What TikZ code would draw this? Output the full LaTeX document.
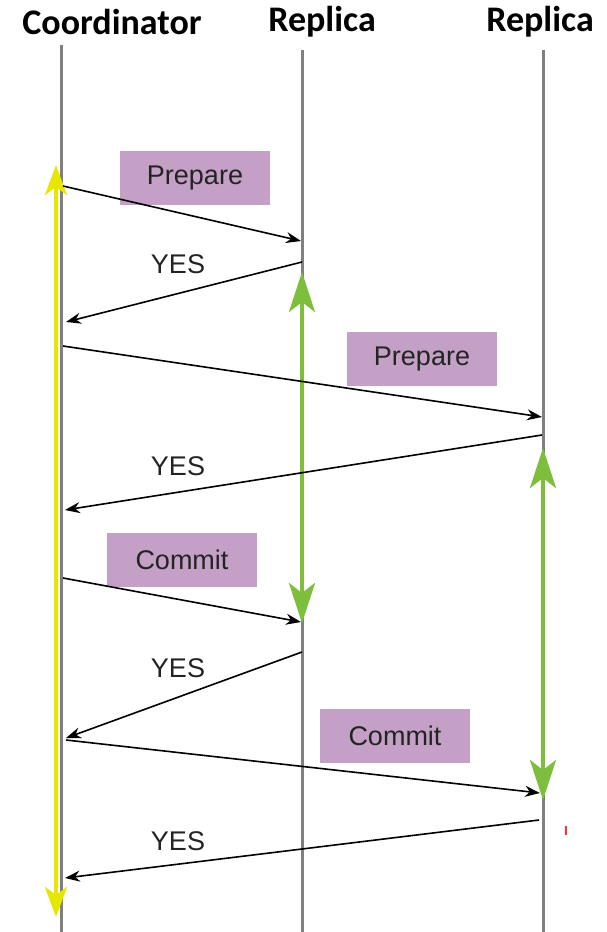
\documentclass[tikz,border=0pt]{standalone}
\usepackage{fontspec}
\setmainfont{Liberation Sans}
\newfontfamily\titlefont{Carlito}
\usetikzlibrary{arrows.meta}
\definecolor{lifegray}{RGB}{128,128,128}
\definecolor{spanyellow}{RGB}{230,230,0}
\definecolor{spangreen}{RGB}{125,190,60}
\definecolor{msgpurple}{RGB}{196,160,198}
\definecolor{msgtext}{RGB}{35,35,35}
\tikzset{
  title/.style={font=\titlefont\bfseries\fontsize{36}{38}\selectfont, text=black, inner sep=0pt, anchor=center},
  lifeline/.style={draw=lifegray, line width=3pt},
  msg/.style={draw=black, line width=1.6pt, -{Stealth[length=15pt,width=11pt]}},
  msgbox/.style={fill=msgpurple, text=msgtext, minimum width=150pt, minimum height=54pt, inner sep=0pt, font=\fontsize{27}{29}\selectfont},
  yeslabel/.style={text=msgtext, inner sep=0pt, font=\fontsize{27}{29}\selectfont},
  yellowspan/.style={draw=spanyellow, line width=4.5pt, {Stealth[length=30pt,width=22pt,inset=8pt]}-{Stealth[length=30pt,width=22pt,inset=8pt]}},
  greenspan/.style={draw=spangreen, line width=4pt, {Stealth[length=40pt,width=26pt,inset=10pt]}-{Stealth[length=40pt,width=26pt,inset=10pt]}},
}
\begin{document}
\begin{tikzpicture}[x=1pt,y=-1pt]
\useasboundingbox (0,0) rectangle (607,932);
% titles
\node[title] (tcoord) at (112,22) {Coordinator};
\node[title] (trep1) at (322,22) {Replica};
\node[title] (trep2) at (540,22) {Replica};
% lifelines
\coordinate (cTop) at (61,45);  \coordinate (cBot) at (61,932);
\coordinate (r1Top) at (302,50); \coordinate (r1Bot) at (302,932);
\coordinate (r2Top) at (543,50); \coordinate (r2Bot) at (543,932);
\draw[lifeline] (cTop) -- (cBot);
\draw[lifeline] (r1Top) -- (r1Bot);
\draw[lifeline] (r2Top) -- (r2Bot);
% spans
\coordinate (ySpanTop) at (56,165); \coordinate (ySpanBot) at (56,917);
\draw[yellowspan] (ySpanTop) -- (ySpanBot);
\coordinate (g1Top) at (302,272); \coordinate (g1Bot) at (302,623);
\draw[greenspan] (g1Top) -- (g1Bot);
\coordinate (g2Top) at (543,448); \coordinate (g2Bot) at (543,800);
\draw[greenspan] (g2Top) -- (g2Bot);
% message end points
\coordinate (m1s) at (63,186);  \coordinate (m1e) at (301,241);
\coordinate (m2s) at (302,262); \coordinate (m2e) at (66,322);
\coordinate (m3s) at (63,346);  \coordinate (m3e) at (542,417);
\coordinate (m4s) at (542,435); \coordinate (m4e) at (65,510);
\coordinate (m5s) at (63,578);  \coordinate (m5e) at (301,622);
\coordinate (m6s) at (302,652); \coordinate (m6e) at (66,738);
\coordinate (m7s) at (66,740);  \coordinate (m7e) at (540,793);
\coordinate (m8s) at (539,820); \coordinate (m8e) at (65,878);
% label boxes (drawn before arrows that overlap them)
\node[msgbox] (prep1) at (195,178) {Prepare};
\node[msgbox] (prep2) at (422,359) {Prepare};
\node[msgbox] (comm1) at (182,560) {Commit};
\node[msgbox] (comm2) at (395,736) {Commit};
% messages
\draw[msg] (m1s) -- (m1e);
\draw[msg] (m2s) -- (m2e);
\draw[msg] (m3s) -- (m3e);
\draw[msg] (m4s) -- (m4e);
\draw[msg] (m5s) -- (m5e);
\draw[msg] (m6s) -- (m6e);
\draw[msg] (m7s) -- (m7e);
\draw[msg] (m8s) -- (m8e);
% YES labels
\node[yeslabel] (yes1) at (178,264) {YES};
\node[yeslabel] (yes2) at (178,466) {YES};
\node[yeslabel] (yes3) at (178,668) {YES};
\node[yeslabel] (yes4) at (178,841) {YES};
% small red mark
\coordinate (redA) at (566,826); \coordinate (redB) at (566,835);
\draw[red!80, line width=1.2pt] (redA) -- (redB);
\end{tikzpicture}
\end{document}
